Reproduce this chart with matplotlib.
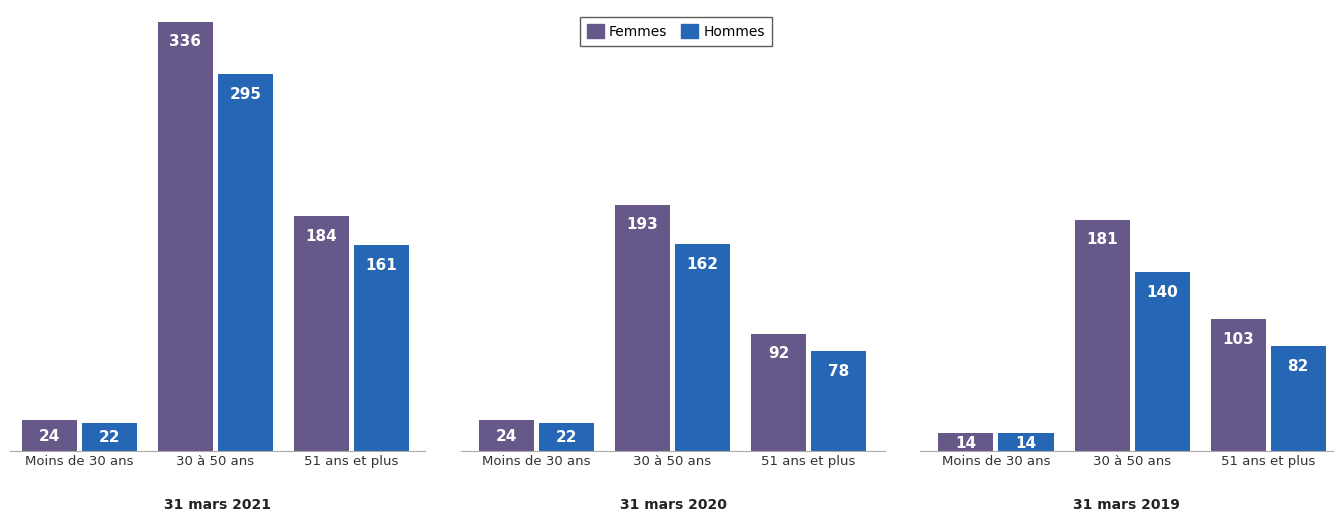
import numpy as np
import matplotlib.pyplot as plt
from matplotlib.patches import Patch

# data
categories = ["Moins de 30 ans", "30 à 50 ans", "51 ans et plus"]
titles = ["31 mars 2021", "31 mars 2020", "31 mars 2019"]
femmes = [[24, 336, 184], [24, 193, 92], [14, 181, 103]]
hommes = [[22, 295, 161], [22, 162, 78], [14, 140, 82]]

C_F = "#665889"
C_H = "#2567b5"

W, H = 1338, 513
fig = plt.figure(figsize=(W / 100, H / 100), dpi=100)

# panel extents in pixels (left, right) and first group centre
panels = [(10, 425, 79.5), (461, 885, 536.5), (920, 1333, 996)]
base_y = 451
step = 136.0
bw = 55 / step
off = 30 / step
px_per_unit = 1.277
ymax = base_y / px_per_unit

for i, (x0, x1, c0) in enumerate(panels):
    ax = fig.add_axes([x0 / W, (H - base_y) / H, (x1 - x0) / W, base_y / H])
    x = np.arange(len(categories))
    bf = ax.bar(x - off, femmes[i], bw, color=C_F)
    bh = ax.bar(x + off, hommes[i], bw, color=C_H)
    ax.set_xlim((x0 - c0) / step, (x1 - c0) / step)
    ax.set_ylim(0, ymax)
    for bars in (bf, bh):
        for b in bars:
            h = b.get_height()
            # label sits near the top, or in the middle of short bars
            drop = min(20, h * px_per_unit / 2 + 1) * 0.72
            ax.annotate(f"{int(h)}", (b.get_x() + b.get_width() / 2, h),
                        xytext=(0, -drop), textcoords="offset points", ha="center", va="center",
                        color="white", fontsize=11, fontweight="bold")
    for s in ["top", "right", "left"]:
        ax.spines[s].set_visible(False)
    ax.spines["bottom"].set_color("#aaaaaa")
    ax.set_yticks([])
    ax.set_xticks(x)
    ax.set_xticklabels(categories, fontsize=9.5, color="#333333")
    ax.tick_params(axis="x", length=0, pad=3)
    ax.text(0.5, -(505 - base_y) / base_y, titles[i], transform=ax.transAxes,
            ha="center", va="center", fontsize=10, fontweight="bold", color="#222222")

handles = [Patch(color=C_F, label="Femmes"), Patch(color=C_H, label="Hommes")]
leg = fig.legend(handles=handles, loc="center", bbox_to_anchor=(676 / W, 1 - 31.5 / H),
                 ncol=2, fontsize=10, frameon=True, fancybox=False, edgecolor="#333333",
                 handlelength=1.2, handleheight=1.2, columnspacing=1.0, handletextpad=0.4,
                 borderpad=0.5)
leg.get_frame().set_linewidth(1.0)

fig.savefig("out.png", dpi=100)
